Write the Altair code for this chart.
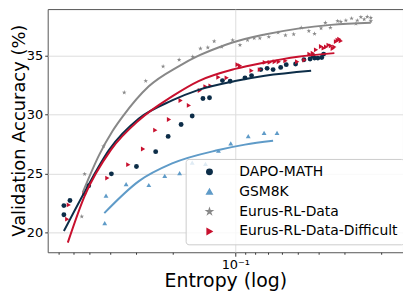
import altair as alt
import pandas as pd

series_names = ["DAPO-MATH", "GSM8K", "Eurus-RL-Data", "Eurus-RL-Data-Difficult"]
series_colors = ["#0c2d48", "#5f9bc8", "#888888", "#c8102e"]
star_path = ("M0,-1L0.2245,-0.309L0.951,-0.309L0.363,0.118L0.588,0.809L0,0.382"
             "L-0.588,0.809L-0.363,0.118L-0.951,-0.309L-0.2245,-0.309Z")
series_shapes = ["circle", "triangle-up", star_path, "triangle-right"]

# ---- scatter data (entropy, validation accuracy) ----
dapo_entropy = [0.664, 0.664, 0.621, 0.505, 0.393, 0.298, 0.241, 0.210, 0.182, 0.161,
                0.143, 0.133, 0.1153, 0.1059, 0.0899, 0.0836, 0.0755, 0.0704, 0.0659,
                0.0606, 0.0570, 0.0514, 0.0469, 0.0438, 0.0417, 0.0402, 0.0385, 0.0377, 0.0425]
dapo_acc = [22.27, 21.49, 22.70, 23.96, 24.97, 25.59, 26.85, 28.15, 29.16, 29.88,
            31.37, 31.43, 32.89, 32.83, 33.12, 33.31, 33.82, 33.93, 33.82,
            34.01, 34.24, 34.30, 34.66, 34.72, 34.80, 34.80, 34.85, 35.14, 35.00]

gsm_entropy = [0.417, 0.423, 0.334, 0.260, 0.218, 0.185, 0.161, 0.139, 0.1205, 0.1052,
               0.0867, 0.0728, 0.0631]
gsm_acc = [23.12, 20.78, 24.10, 24.02, 24.80, 25.03, 25.92, 25.81, 26.93, 27.56,
           28.17, 28.45, 28.45]

eurus_entropy = [0.528, 0.545, 0.429, 0.341, 0.269, 0.222, 0.186, 0.160, 0.147, 0.1355,
                 0.1263, 0.1162, 0.1030, 0.0950, 0.0874, 0.0812, 0.0763, 0.0691, 0.0624,
                 0.0575, 0.0525, 0.0483, 0.0444, 0.0417, 0.0388, 0.0370, 0.0350, 0.0323,
                 0.0312, 0.0295, 0.0277, 0.0264, 0.0260, 0.0250, 0.0241, 0.0233, 0.0224, 0.0224]
eurus_acc = [24.95, 21.35, 27.31, 31.88, 32.86, 34.09, 34.66, 34.91, 35.61, 35.70,
             36.23, 35.75, 36.32, 35.90, 36.32, 36.49, 36.49, 36.60, 36.96,
             36.74, 36.82, 37.38, 37.10, 36.87, 37.33, 37.80, 37.38, 37.94,
             37.89, 38.00, 38.17, 37.72, 38.00, 38.28, 38.09, 38.31, 37.94, 38.22]

diff_entropy = [0.629, 0.640, 0.529, 0.411, 0.326, 0.277, 0.242, 0.208, 0.183, 0.167,
                0.148, 0.139, 0.1315, 0.1205, 0.110, 0.0975, 0.0950, 0.0836, 0.0763,
                0.0722, 0.0684, 0.0647, 0.0619, 0.0575, 0.0505, 0.0466, 0.0441, 0.0425,
                0.0410, 0.0388, 0.0377, 0.0367, 0.0357, 0.0348, 0.0341, 0.0335, 0.0329,
                0.0323, 0.0317, 0.0312]
diff_acc = [22.33, 21.12, 23.26, 24.61, 25.75, 27.08, 28.68, 29.58, 31.20, 30.78,
            32.05, 32.38, 32.44, 33.17, 33.12, 34.24, 34.15, 33.73, 33.82,
            34.43, 34.43, 34.49, 34.49, 34.57, 34.49, 34.63, 35.14, 35.22,
            35.50, 35.78, 35.64, 35.75, 35.90, 35.84, 35.61, 35.75, 36.20,
            36.32, 36.40, 36.26]

# ---- fitted curves ----
dapo_fit_entropy = [0.664, 0.511, 0.403, 0.290, 0.201, 0.150, 0.1003, 0.0722, 0.0433]
dapo_fit_acc = [20.11, 23.90, 27.00, 29.66, 31.20, 32.10, 32.85, 33.30, 33.73]

gsm_fit_entropy = [0.425, 0.290, 0.201, 0.1205, 0.0899, 0.0659]
gsm_fit_acc = [21.63, 24.35, 25.85, 26.99, 27.45, 27.78]

eurus_fit_entropy = [0.539, 0.449, 0.388, 0.348, 0.260, 0.187, 0.150, 0.1205, 0.1041,
                     0.0722, 0.0501, 0.0348, 0.0224]
eurus_fit_acc = [23.4, 26.6, 28.6, 29.8, 32.4, 34.1, 35.0, 35.7, 36.1,
                 36.8, 37.3, 37.62, 37.8]

diff_fit_entropy = [0.636, 0.529, 0.395, 0.290, 0.201, 0.150, 0.1003, 0.0722, 0.0501, 0.0335]
diff_fit_acc = [19.13, 23.06, 27.00, 29.52, 31.55, 32.85, 33.88, 34.43, 34.91, 35.22]

x_tick_values = [0.02, 0.03, 0.04, 0.05, 0.06, 0.07, 0.08, 0.09, 0.1,
                 0.2, 0.3, 0.4, 0.5, 0.6, 0.7]
y_tick_values = [20, 25, 30, 35]

points_src = [
    (series_names[0], dapo_entropy, dapo_acc),
    (series_names[1], gsm_entropy, gsm_acc),
    (series_names[2], eurus_entropy, eurus_acc),
    (series_names[3], diff_entropy, diff_acc),
]
fits_src = [
    (series_names[0], dapo_fit_entropy, dapo_fit_acc),
    (series_names[1], gsm_fit_entropy, gsm_fit_acc),
    (series_names[2], eurus_fit_entropy, eurus_fit_acc),
    (series_names[3], diff_fit_entropy, diff_fit_acc),
]

pts = pd.DataFrame(
    [{"series": n, "entropy": h, "acc": a} for n, hs, accs in points_src for h, a in zip(hs, accs)]
)
fits = pd.DataFrame(
    [{"series": n, "entropy": h, "acc": a} for n, hs, accs in fits_src for h, a in zip(hs, accs)]
)

x_scale = alt.Scale(type="log", domain=[0.0157, 0.794], reverse=True, nice=False)
y_scale = alt.Scale(domain=[18.31, 38.96], nice=False, zero=False)

x_axis = alt.Axis(
    values=x_tick_values,
    labelExpr="datum.value == 0.1 ? '10⁻¹' : ''",
    labelOverlap=False,
    labelFlush=False,
    labelFontSize=13,
    labelPadding=2,
    tickSize={"condition": {"test": "datum.value == 0.1", "value": 4}, "value": 2},
    gridOpacity={"condition": {"test": "datum.value == 0.1", "value": 1}, "value": 0},
    grid=True,
    gridColor="#dddddd",
    domain=False,
    tickColor="#333333",
    title="Entropy (log)",
    titleFontSize=19,
    titleFontWeight="normal",
    titleY=35,
    titleBaseline="alphabetic",
)
y_axis = alt.Axis(
    values=y_tick_values,
    grid=True,
    gridColor="#dddddd",
    domain=False,
    tickSize=3,
    tickColor="#333333",
    labelFontSize=13,
    labelPadding=2,
    title="Validation Accuracy (%)",
    titleFontSize=18,
    titleFontWeight="normal",
    titleX=-23,
    titleY=122,
    titleAngle=270,
    titleAlign="center",
    titleBaseline="alphabetic",
)

legend = alt.Legend(
    orient="none",
    legendX=139,
    legendY=151,
    title=None,
    labelFontSize=14,
    labelColor="#000000",
    symbolSize=30,
    padding=6,
    rowPadding=6,
    symbolOffset=11,
    labelOffset=23,
    strokeColor="#cccccc",
    fillColor="rgba(255,255,255,0.8)",
    cornerRadius=3,
)

points = alt.Chart(pts).mark_point(filled=True, size=24, opacity=1).encode(
    x=alt.X("entropy:Q", scale=x_scale, axis=x_axis),
    y=alt.Y("acc:Q", scale=y_scale, axis=y_axis),
    color=alt.Color("series:N", scale=alt.Scale(domain=series_names, range=series_colors),
                    legend=legend),
    shape=alt.Shape("series:N", scale=alt.Scale(domain=series_names, range=series_shapes),
                    legend=legend),
)

lines = alt.Chart(fits).mark_line(strokeWidth=2, interpolate="monotone").encode(
    x=alt.X("entropy:Q", scale=x_scale),
    y=alt.Y("acc:Q", scale=y_scale),
    stroke=alt.Stroke("series:N", scale=alt.Scale(domain=series_names, range=series_colors),
                      legend=None),
    detail="series:N",
    order=alt.Order("entropy:Q", sort="descending"),
)

chart = alt.layer(points, lines).properties(
    width=358,
    height=245,
    autosize=alt.AutoSizeParams(type="none"),
    padding={"left": 40, "top": 0, "right": 0, "bottom": 44},
).configure(
    font="DejaVu Sans",
).configure_view(
    stroke="#555555",
    strokeWidth=1,
).configure_axis(
    labelColor="#000000",
    titleColor="#000000",
)

chart.save("out.html", embed_options={"renderer": "svg", "actions": False})
